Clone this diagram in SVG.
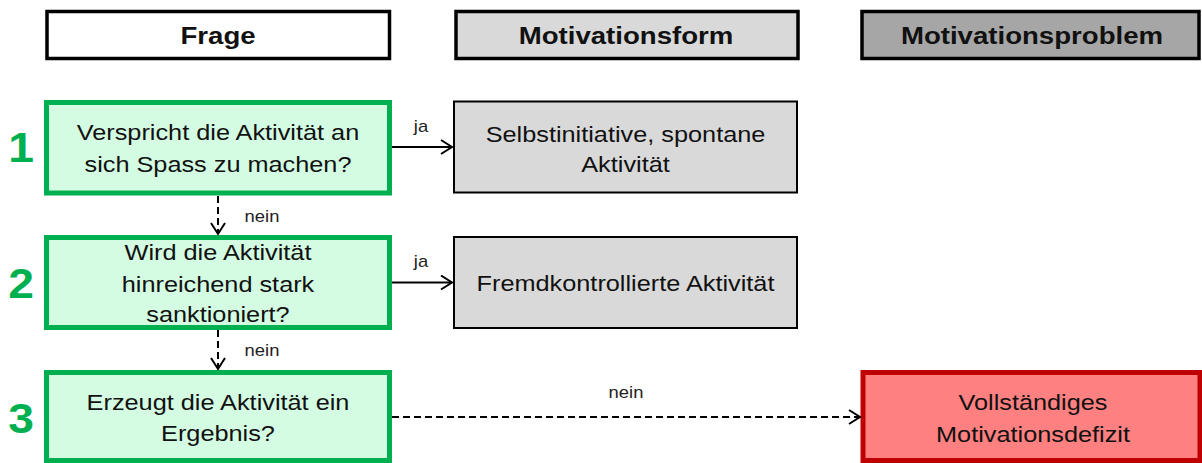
<svg xmlns="http://www.w3.org/2000/svg" width="1202" height="463" viewBox="0 0 1202 463">
<style>
  text { font-family: "Liberation Sans", Arial, sans-serif; fill: #111; text-anchor: middle; }
  .hdr { font-size: 24px; font-weight: bold; }
  .body { font-size: 22px; }
  .lbl { font-size: 16px; fill: #222; }
  .num { font-size: 42px; font-weight: bold; fill: #00b050; }
  .hbox { stroke: #000; stroke-width: 3.5; }
  .q { fill: #d4fce2; stroke: #00b050; stroke-width: 5; }
  .g { fill: #d9d9d9; stroke: #000; stroke-width: 2; }
  .r { fill: #ff8080; stroke: #c00000; stroke-width: 5; }
  .c { fill: none; stroke: #000; stroke-width: 2; }
  .d { stroke-dasharray: 7 4; }
</style>
<defs>
  <marker id="arr" markerUnits="userSpaceOnUse" markerWidth="16" markerHeight="18" refX="13" refY="8" orient="auto">
    <path d="M2,1 L13,8 L2,15" fill="none" stroke="#000" stroke-width="2"/>
  </marker>
</defs>

<g id="header-frage">
  <rect class="hbox" x="47" y="11.5" width="342.5" height="47" fill="#fff"/>
  <text class="hdr" transform="translate(218,44) scale(1.15,1)">Frage</text>
</g>
<g id="header-motivationsform">
  <rect class="hbox" x="456" y="11.5" width="342" height="47" fill="#d9d9d9"/>
  <text class="hdr" transform="translate(626,44) scale(1.15,1)">Motivationsform</text>
</g>
<g id="header-motivationsproblem">
  <rect class="hbox" x="862" y="11.5" width="337" height="47" fill="#a6a6a6"/>
  <text class="hdr" transform="translate(1032,44) scale(1.15,1)">Motivationsproblem</text>
</g>

<g id="num1"><text class="num" transform="translate(21,162) scale(1.1,1)">1</text></g>
<g id="num2"><text class="num" transform="translate(21,298) scale(1.1,1)">2</text></g>
<g id="num3"><text class="num" transform="translate(21,433) scale(1.1,1)">3</text></g>

<g id="q1">
  <rect class="q" x="46.5" y="102.5" width="343" height="90.5"/>
  <text class="body" transform="translate(218,140) scale(1.15,1)">Verspricht die Aktivität an</text>
  <text class="body" transform="translate(218,171.5) scale(1.15,1)">sich Spass zu machen?</text>
</g>
<g id="q2">
  <rect class="q" x="46.5" y="237.5" width="343" height="90"/>
  <text class="body" transform="translate(218,260) scale(1.15,1)">Wird die Aktivität</text>
  <text class="body" transform="translate(218,291.5) scale(1.15,1)">hinreichend stark</text>
  <text class="body" transform="translate(218,321.5) scale(1.15,1)">sanktioniert?</text>
</g>
<g id="q3">
  <rect class="q" x="46.5" y="372.5" width="343" height="88"/>
  <text class="body" transform="translate(218,410) scale(1.15,1)">Erzeugt die Aktivität ein</text>
  <text class="body" transform="translate(218,440.5) scale(1.15,1)">Ergebnis?</text>
</g>

<g id="m1">
  <rect class="g" x="454" y="101.5" width="343" height="91"/>
  <text class="body" transform="translate(625.5,141.5) scale(1.15,1)">Selbstinitiative, spontane</text>
  <text class="body" transform="translate(625.5,171.5) scale(1.15,1)">Aktivität</text>
</g>
<g id="m2">
  <rect class="g" x="454" y="237" width="343" height="91"/>
  <text class="body" transform="translate(625.5,291) scale(1.15,1)">Fremdkontrollierte Aktivität</text>
</g>

<g id="p3">
  <rect class="r" x="863" y="372.5" width="337" height="88"/>
  <text class="body" transform="translate(1033,409.5) scale(1.15,1)">Vollständiges</text>
  <text class="body" transform="translate(1033,441.5) scale(1.15,1)">Motivationsdefizit</text>
</g>

<g id="connectors">
  <path class="c" d="M392,147 H452" marker-end="url(#arr)"/>
  <text class="lbl" transform="translate(421,132) scale(1.15,1)">ja</text>
  <path class="c" d="M392,282.5 H452" marker-end="url(#arr)"/>
  <text class="lbl" transform="translate(421,267) scale(1.15,1)">ja</text>
  <path class="c d" d="M218,196 V234" marker-end="url(#arr)"/>
  <text class="lbl" transform="translate(262,222) scale(1.15,1)">nein</text>
  <path class="c d" d="M218,330 V369" marker-end="url(#arr)"/>
  <text class="lbl" transform="translate(262,356) scale(1.15,1)">nein</text>
  <path class="c d" d="M392,417 H860" marker-end="url(#arr)"/>
  <text class="lbl" transform="translate(626,398) scale(1.15,1)">nein</text>
</g>
</svg>
